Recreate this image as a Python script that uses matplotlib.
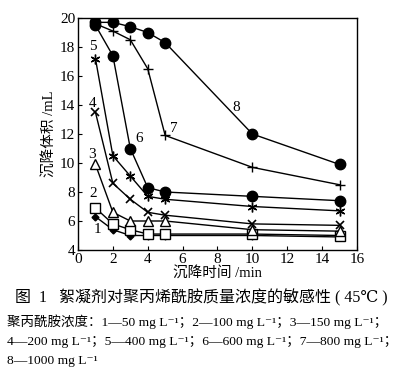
import matplotlib
matplotlib.use('Agg')
import matplotlib.pyplot as plt

plt.rcParams['font.family'] = ['Liberation Serif', 'DejaVu Serif', 'Noto Sans CJK SC']

# settling time (min)
time = [1, 2, 3, 4, 5, 10, 15]

# settled volume (mL) for each PAM concentration
c1 = [6.3, 5.4, 5.0, 5.0, 5.0, 5.0, 4.9]
c2 = [6.9, 5.8, 5.4, 5.1, 5.1, 5.1, 5.0]
c3 = [9.9, 6.6, 6.0, 6.0, 6.0, 5.4, 5.3]
c4 = [13.5, 8.6, 7.5, 6.6, 6.4, 5.8, 5.7]
c5 = [17.2, 10.5, 9.1, 7.7, 7.5, 7.0, 6.7]
c6 = [19.5, 17.4, 11.0, 8.3, 8.0, 7.7, 7.4]
c7 = [19.6, 19.1, 18.5, 16.5, 11.9, 9.7, 8.5]
c8 = [19.7, 19.7, 19.4, 19.0, 18.3, 12.0, 9.9]

series = [c1, c2, c3, c4, c5, c6, c7, c8]
labels = ['1', '2', '3', '4', '5', '6', '7', '8']
# label anchor positions (x, y) in data units
label_pos = [(1.1, 5.4), (0.85, 7.9), (0.8, 10.6), (0.85, 14.1),
             (0.85, 18.0), (3.5, 11.7), (5.5, 12.4), (9.1, 13.8)]

markers = [
    dict(marker='D', ms=3.5, mfc='black'),
    dict(marker='s', ms=7, mfc='white'),
    dict(marker='^', ms=7, mfc='white'),
    dict(marker='x', ms=6, mew=1.2),
    dict(marker=(6, 2, 0), ms=7, mew=1.0),
    dict(marker='o', ms=7.5, mfc='black'),
    dict(marker='+', ms=7, mew=1.0),
    dict(marker='o', ms=7.5, mfc='black'),
]

W, H = 404, 378
fig = plt.figure(figsize=(W / 100, H / 100), dpi=100)
ax = fig.add_axes([78 / W, 1 - 250 / H, (357 - 78) / W, (250 - 18) / H])

for vals, m in zip(series, markers):
    ax.plot(time, vals, color='black', lw=1.0, mec='black', **m)

for lab, (x, y) in zip(labels, label_pos):
    ax.text(x, y, lab, fontsize=11, ha='center', va='center')

ax.set_xlim(0, 16)
ax.set_ylim(4, 20)
ax.set_xticks(range(0, 17, 2))
ax.set_yticks(range(4, 21, 2))
ax.tick_params(direction='in', length=3, labelsize=11, pad=2)
for s in ax.spines.values():
    s.set_linewidth(1.0)

ax.set_xlabel('沉降时间 /min', fontsize=10.5, labelpad=1)
ax.set_ylabel('沉降体积 /mL', fontsize=10.5, labelpad=2)

fig.text(15 / W, 1 - 298 / H, '图  1   絮凝剂对聚丙烯酰胺质量浓度的敏感性 ( 45℃ )',
         fontsize=11.5, va='center', ha='left')

u = 'mg L⁻¹'
lines = [
    f'聚丙酰胺浓度：1—50 {u}；2—100 {u}；3—150 {u}；',
    f'4—200 {u}；5—400 {u}；6—600 {u}；7—800 {u}；',
    f'8—1000 {u}',
]
for line, yy in zip(lines, [322, 342, 361]):
    fig.text(7 / W, 1 - yy / H, line, fontsize=9.7, va='center', ha='left')

fig.savefig('out.png', dpi=100, facecolor='white')
